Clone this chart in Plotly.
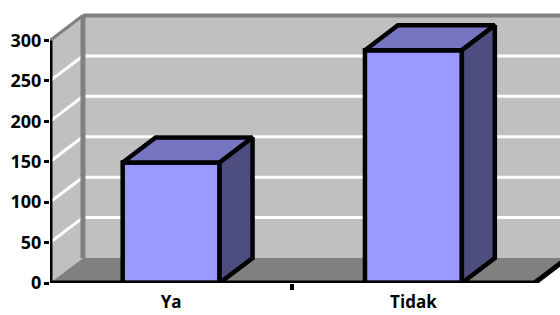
import plotly.graph_objects as go

# ---- data ----
categories = ["Ya", "Tidak"]
values = [149, 288]
y_ticks = [0, 50, 100, 150, 200, 250, 300]

# ---- geometry / style ----
cat_pos = [0.5, 1.5]
BAR_W = 0.4
DX = 0.136      # depth offset in x units
DY = 30.9       # depth offset in y units
Y_TOP = 300
X_END = 2

FRONT = "#9999ff"
TOP = "#7575c2"
SIDE = "#4d4d80"
WALL = "#c0c0c0"
FLOOR = "#808080"
EDGE = "#808080"
FONT = dict(family="Open Sans", size=18, color="black", weight="bold")
XFONT = dict(family="Open Sans", size=17, color="black", weight="bold")


def path(pts, close=True):
    s = "M " + " L ".join(f"{x},{y}" for x, y in pts)
    return s + (" Z" if close else "")


shapes = []
# back wall
shapes.append(dict(type="path", xref="x", yref="y", layer="below", line_width=0, fillcolor=WALL,
                   path=path([(DX, DY), (X_END + DX, DY), (X_END + DX, Y_TOP + DY), (DX, Y_TOP + DY)])))
# side wall
shapes.append(dict(type="path", xref="x", yref="y", layer="below", line_width=0, fillcolor=WALL,
                   path=path([(0, 0), (DX, DY), (DX, Y_TOP + DY), (0, Y_TOP)])))
# floor
shapes.append(dict(type="path", xref="x", yref="y", layer="below", line_width=0, fillcolor=FLOOR,
                   path=path([(0, 0), (X_END, 0), (X_END + DX, DY), (DX, DY)])))
# gridlines
for v in y_ticks[1:-1]:
    shapes.append(dict(type="line", xref="x", yref="y", layer="below", line=dict(color="white", width=3),
                       x0=DX, y0=v + DY, x1=X_END + DX, y1=v + DY))
    shapes.append(dict(type="line", xref="x", yref="y", layer="below", line=dict(color="white", width=3),
                       x0=0, y0=v, x1=DX, y1=v + DY))
# wall edges
shapes.append(dict(type="line", xref="x", yref="y", layer="below", line=dict(color=EDGE, width=5),
                   x0=DX, y0=DY, x1=DX, y1=Y_TOP + DY))
shapes.append(dict(type="line", xref="x", yref="y", layer="below", line=dict(color=EDGE, width=4),
                   x0=DX, y0=Y_TOP + DY, x1=X_END + DX, y1=Y_TOP + DY))
shapes.append(dict(type="line", xref="x", yref="y", layer="below", line=dict(color=EDGE, width=3),
                   x0=0, y0=Y_TOP, x1=DX, y1=Y_TOP + DY))
# axis lines
shapes.append(dict(type="line", xref="x", yref="y", layer="above", line=dict(color="black", width=5),
                   x0=0, y0=0, x1=0, y1=Y_TOP))
shapes.append(dict(type="path", xref="x", yref="y", layer="above", line=dict(color="black", width=5),
                   path=path([(0, 0), (X_END, 0), (X_END + DX, DY)], close=False)))

fig = go.Figure()
fig.add_trace(go.Bar(x=cat_pos, y=values, width=BAR_W, marker=dict(color=FRONT, line=dict(color="black", width=4.5)),
                     hoverinfo="skip", showlegend=False))

for xc, v in zip(cat_pos, values):
    xl, xr = xc - BAR_W / 2, xc + BAR_W / 2
    top_x = [xl, xr, xr + DX, xl + DX, xl]
    top_y = [v, v, v + DY, v + DY, v]
    fig.add_trace(go.Scatter(x=top_x, y=top_y, mode="lines", fill="toself", fillcolor=TOP,
                             line=dict(color="black", width=4.5), hoverinfo="skip", showlegend=False))
    side_x = [xr, xr + DX, xr + DX, xr, xr]
    side_y = [0, DY, v + DY, v, 0]
    fig.add_trace(go.Scatter(x=side_x, y=side_y, mode="lines", fill="toself", fillcolor=SIDE,
                             line=dict(color="black", width=4.5), hoverinfo="skip", showlegend=False))

fig.update_layout(
    width=560, height=315,
    margin=dict(l=50, r=0, t=13, b=32, autoexpand=False),
    paper_bgcolor="white", plot_bgcolor="white",
    shapes=shapes,
    xaxis=dict(range=[0, 2.105], showgrid=False, zeroline=False, showline=False, automargin=False,
               tickmode="array", tickvals=cat_pos, ticktext=categories, ticks="",
               minor=dict(tickvals=[1], ticks="outside", ticklen=6, tickwidth=4, tickcolor="black"),
               ticklabelstandoff=7,
               tickfont=XFONT, fixedrange=True),
    yaxis=dict(range=[0, 334], showgrid=False, zeroline=False, showline=False, automargin=False,
               tickmode="array", tickvals=y_ticks, ticks="outside", ticklen=5, tickwidth=3,
               ticklabelstandoff=-1,
               tickcolor="black", tickfont=FONT, fixedrange=True),
)

fig.write_html("out.html", config={"displayModeBar": False},
               post_script="document.body.style.margin='0';document.body.style.overflow='hidden';")
